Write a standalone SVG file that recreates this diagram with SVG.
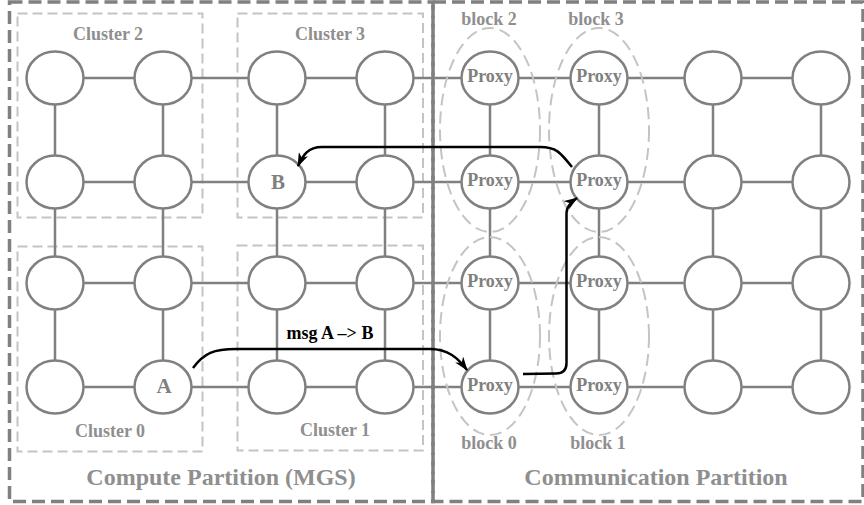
<svg xmlns="http://www.w3.org/2000/svg" width="864" height="505" viewBox="0 0 864 505">
<defs>
<style>
.part{fill:none;stroke:#808080;stroke-width:3.5;stroke-dasharray:13 6}
.clu{fill:none;stroke:#c4c4c4;stroke-width:2;stroke-dasharray:10 5}
.blk{fill:none;stroke:#c4c4c4;stroke-width:2;stroke-dasharray:12 6}
.edge{stroke:#808080;stroke-width:2.5}
.node ellipse{fill:#fff;stroke:#808080;stroke-width:2.5}
.node text{font-family:"Liberation Serif",serif;font-weight:bold;font-size:18px;fill:#808080;text-anchor:middle}
.node text.big{font-size:21px}
.lbl{font-family:"Liberation Serif",serif;font-weight:bold;font-size:18px;fill:#8f8f8f;text-anchor:middle}
.title{font-family:"Liberation Serif",serif;font-weight:bold;font-size:24px;fill:#8f8f8f;text-anchor:middle}
.msg{fill:none;stroke:#000;stroke-width:2.5}
</style>
<marker id="ah" markerUnits="userSpaceOnUse" viewBox="0 0 14 10" refX="13" refY="5" markerWidth="14" markerHeight="10" orient="auto">
<path d="M0,0 L14,5 L0,10 L4,5 z" fill="#000"/>
</marker>
</defs>
<rect width="864" height="505" fill="#fff"/>
<g id="partitions">
<rect class="part" x="9.5" y="2" width="423.5" height="499.5"/>
<rect class="part" x="433" y="2" width="430" height="499.5"/>
</g>
<g id="clusters">
<rect class="clu" x="17.5" y="13.5" width="185" height="204"/>
<rect class="clu" x="237.5" y="13.5" width="185.5" height="204"/>
<rect class="clu" x="17.5" y="246.5" width="185" height="205"/>
<rect class="clu" x="237.5" y="245.5" width="185.5" height="205"/>
</g>
<g id="connectors">
<g id="edges">
<line class="edge" x1="55" y1="78" x2="821" y2="78"/>
<line class="edge" x1="55" y1="182" x2="821" y2="182"/>
<line class="edge" x1="55" y1="283" x2="821" y2="283"/>
<line class="edge" x1="55" y1="387" x2="821" y2="387"/>
<line class="edge" x1="55" y1="78" x2="55" y2="387"/>
<line class="edge" x1="163" y1="78" x2="163" y2="387"/>
<line class="edge" x1="277" y1="78" x2="277" y2="387"/>
<line class="edge" x1="385" y1="78" x2="385" y2="387"/>
<line class="edge" x1="490" y1="78" x2="490" y2="387"/>
<line class="edge" x1="599" y1="78" x2="599" y2="387"/>
<line class="edge" x1="713" y1="78" x2="713" y2="387"/>
<line class="edge" x1="821" y1="78" x2="821" y2="387"/>
</g>
</g>
<g id="blocks">
<ellipse class="blk" cx="490" cy="130" rx="50" ry="102"/>
<ellipse class="blk" cx="599" cy="130" rx="50" ry="102"/>
<ellipse class="blk" cx="490" cy="336" rx="50" ry="99"/>
<ellipse class="blk" cx="599" cy="336" rx="50" ry="99"/>
</g>
<g id="nodes">
<g id="n00" class="node"><ellipse cx="55" cy="78" rx="28.5" ry="26.5"/></g>
<g id="n01" class="node"><ellipse cx="163" cy="78" rx="28.5" ry="26.5"/></g>
<g id="n02" class="node"><ellipse cx="277" cy="78" rx="28.5" ry="26.5"/></g>
<g id="n03" class="node"><ellipse cx="385" cy="78" rx="28.5" ry="26.5"/></g>
<g id="n04" class="node"><ellipse cx="490" cy="78" rx="28.5" ry="26.5"/><text x="490" y="82">Proxy</text></g>
<g id="n05" class="node"><ellipse cx="599" cy="78" rx="28.5" ry="26.5"/><text x="599" y="82">Proxy</text></g>
<g id="n06" class="node"><ellipse cx="713" cy="78" rx="28.5" ry="26.5"/></g>
<g id="n07" class="node"><ellipse cx="821" cy="78" rx="28.5" ry="26.5"/></g>
<g id="n10" class="node"><ellipse cx="55" cy="182" rx="28.5" ry="26.5"/></g>
<g id="n11" class="node"><ellipse cx="163" cy="182" rx="28.5" ry="26.5"/></g>
<g id="n12" class="node"><ellipse cx="277" cy="182" rx="28.5" ry="26.5"/><text class="big" x="278" y="189">B</text></g>
<g id="n13" class="node"><ellipse cx="385" cy="182" rx="28.5" ry="26.5"/></g>
<g id="n14" class="node"><ellipse cx="490" cy="182" rx="28.5" ry="26.5"/><text x="490" y="186">Proxy</text></g>
<g id="n15" class="node"><ellipse cx="599" cy="182" rx="28.5" ry="26.5"/><text x="599" y="186">Proxy</text></g>
<g id="n16" class="node"><ellipse cx="713" cy="182" rx="28.5" ry="26.5"/></g>
<g id="n17" class="node"><ellipse cx="821" cy="182" rx="28.5" ry="26.5"/></g>
<g id="n20" class="node"><ellipse cx="55" cy="283" rx="28.5" ry="26.5"/></g>
<g id="n21" class="node"><ellipse cx="163" cy="283" rx="28.5" ry="26.5"/></g>
<g id="n22" class="node"><ellipse cx="277" cy="283" rx="28.5" ry="26.5"/></g>
<g id="n23" class="node"><ellipse cx="385" cy="283" rx="28.5" ry="26.5"/></g>
<g id="n24" class="node"><ellipse cx="490" cy="283" rx="28.5" ry="26.5"/><text x="490" y="287">Proxy</text></g>
<g id="n25" class="node"><ellipse cx="599" cy="283" rx="28.5" ry="26.5"/><text x="599" y="287">Proxy</text></g>
<g id="n26" class="node"><ellipse cx="713" cy="283" rx="28.5" ry="26.5"/></g>
<g id="n27" class="node"><ellipse cx="821" cy="283" rx="28.5" ry="26.5"/></g>
<g id="n30" class="node"><ellipse cx="55" cy="387" rx="28.5" ry="26.5"/></g>
<g id="n31" class="node"><ellipse cx="163" cy="387" rx="28.5" ry="26.5"/><text class="big" x="164" y="393">A</text></g>
<g id="n32" class="node"><ellipse cx="277" cy="387" rx="28.5" ry="26.5"/></g>
<g id="n33" class="node"><ellipse cx="385" cy="387" rx="28.5" ry="26.5"/></g>
<g id="n34" class="node"><ellipse cx="490" cy="387" rx="28.5" ry="26.5"/><text x="490" y="391">Proxy</text></g>
<g id="n35" class="node"><ellipse cx="599" cy="387" rx="28.5" ry="26.5"/><text x="599" y="391">Proxy</text></g>
<g id="n36" class="node"><ellipse cx="713" cy="387" rx="28.5" ry="26.5"/></g>
<g id="n37" class="node"><ellipse cx="821" cy="387" rx="28.5" ry="26.5"/></g>
</g>
<g id="messages">
<path class="msg" marker-end="url(#ah)" d="M193,368 C204,353 214,349 236,349 L430,349 C448,349 458,358 467,370"/>
<path class="msg" marker-end="url(#ah)" d="M523,374 L556,373.5 Q566.5,373.5 566.5,363 L566.5,213 Q566.5,205 577,198"/>
<path class="msg" marker-end="url(#ah)" d="M572,167 C560,152 556,147 540,147 L322,147 C308,147 303,155 298,166"/>
</g>
<g id="labels">
<text class="lbl" x="108" y="40">Cluster 2</text>
<text class="lbl" x="330" y="40">Cluster 3</text>
<text class="lbl" x="110" y="437">Cluster 0</text>
<text class="lbl" x="335" y="436">Cluster 1</text>
<text class="lbl" x="489" y="25">block 2</text>
<text class="lbl" x="596" y="25">block 3</text>
<text class="lbl" x="489" y="449">block 0</text>
<text class="lbl" x="598" y="449">block 1</text>
<text x="330" y="339" text-anchor="middle" font-family="Liberation Serif, serif" font-weight="bold" font-size="18" fill="#000">msg A –&gt; B</text>
<text class="title" x="221" y="485">Compute Partition (MGS)</text>
<text class="title" x="656" y="485">Communication Partition</text>
</g>
</svg>
